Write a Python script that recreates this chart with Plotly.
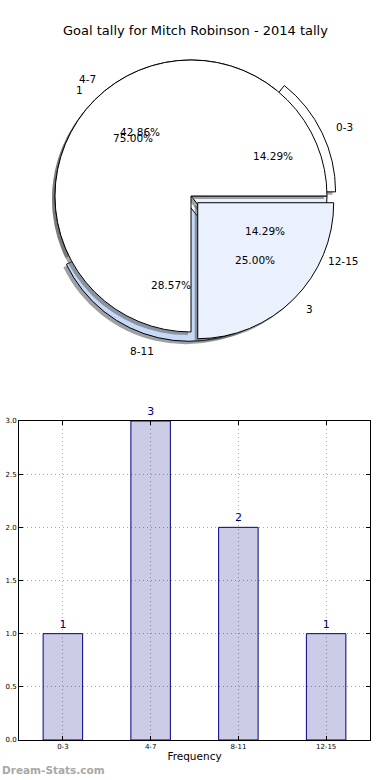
import math
import plotly.graph_objects as go

# ---------------- data ----------------
title_text = "Goal tally for Mitch Robinson - 2014 tally"
categories = ["0-3", "4-7", "8-11", "12-15"]
counts = [1, 3, 2, 1]
pie_a_pull = [0.07, 0.0, 0.07, 0.0]
pie_a_colors = ["#ffffff", "#ffffff", "#c6d9f7", "#eaf0fc"]

pie_b_labels = ["1", "3"]
pie_b_values = [3, 1]
pie_b_pull = [0.0, 0.07]
pie_b_colors = ["#ffffff", "#eaf0fc"]

y_ticks = [0.0, 0.5, 1.0, 1.5, 2.0, 2.5, 3.0]
x_title = "Frequency"
watermark = "Dream-Stats.com"

# ---------------- layout geometry ----------------
FIG_W, FIG_H = 390, 780
ML, MR, MT, MB = 19, 20, 0, 40
PW, PH = FIG_W - ML - MR, FIG_H - MT - MB
CX, CY, R = 191, 196, 136
MAXPULL = max(pie_a_pull + pie_b_pull)


def px_x(px):
    return (px - ML) / PW


def px_y(py):
    return (FIG_H - MB - py) / PH


def pie_domain(dx=0.0, dy=0.0):
    half = R * (1 + MAXPULL)
    return dict(x=[px_x(CX - half + dx), px_x(CX + half + dx)],
                y=[px_y(CY + half + dy), px_y(CY - half + dy)])


def pie_trace(values, labels, pull, colors, dom, line_w=1, name=""):
    # pad pull array so every pie computes the same radius
    p = list(pull) + [MAXPULL]
    # first slice starts at 3 o'clock and the slices run counterclockwise
    rot = 90 - values[0] / sum(values) * 360
    return go.Pie(values=values, labels=labels, pull=p, sort=False,
                  direction="counterclockwise", rotation=rot,
                  marker=dict(colors=colors, line=dict(color="black", width=line_w)),
                  textinfo="none", hoverinfo="skip", showlegend=False,
                  domain=dom, name=name)


fig = go.Figure()

shadow_a = ["rgba(77,77,77,0.5)", "rgba(77,77,77,0.5)", "rgba(59,65,74,0.5)", "rgba(70,72,76,0.5)"]
shadow_b = ["rgba(77,77,77,0.5)", "rgba(70,72,76,0.5)"]
fig.add_trace(pie_trace(counts, categories, pie_a_pull, shadow_a, pie_domain(-3, 3), 0, "sa"))
fig.add_trace(pie_trace(counts, categories, pie_a_pull, pie_a_colors, pie_domain(), 1, "a"))
fig.add_trace(pie_trace(pie_b_values, pie_b_labels, pie_b_pull, shadow_b, pie_domain(-3, 3), 0, "sb"))
fig.add_trace(pie_trace(pie_b_values, pie_b_labels, pie_b_pull, pie_b_colors, pie_domain(), 1, "b"))

# pie labels (matplotlib style: percent at 0.6 r, label at 1.1 r)
annotations = []


def add_pie_text(values, labels, pull):
    total = sum(values)
    start = 0.0
    for v, lab, p in zip(values, labels, pull):
        frac = v / total
        mid = math.radians((start + frac / 2) * 360)
        start += frac
        ox = CX + p * R * math.cos(mid)
        oy = CY - p * R * math.sin(mid)
        lx = ox + 1.1 * R * math.cos(mid)
        ly = oy - 1.1 * R * math.sin(mid)
        annotations.append(dict(x=px_x(lx), y=px_y(ly), xref="paper", yref="paper",
                                text=lab, showarrow=False,
                                xanchor="left" if math.cos(mid) > 0 else "right",
                                yanchor="middle",
                                font=dict(family="DejaVu Sans", size=10.5, color="black")))
        tx = ox + 0.6 * R * math.cos(mid)
        ty = oy - 0.6 * R * math.sin(mid)
        annotations.append(dict(x=px_x(tx), y=px_y(ty), xref="paper", yref="paper",
                                text=f"{frac * 100:.2f}%", showarrow=False,
                                xanchor="center", yanchor="middle",
                                font=dict(family="DejaVu Sans", size=10.5, color="black")))


add_pie_text(counts, categories, pie_a_pull)
add_pie_text(pie_b_values, pie_b_labels, pie_b_pull)

# title
annotations.append(dict(x=px_x(FIG_W / 2), y=px_y(30), xref="paper", yref="paper",
                        xanchor="center", yanchor="middle", text=title_text, showarrow=False,
                        font=dict(family="DejaVu Sans", size=13, color="black")))

# ---------------- bar chart ----------------
fig.add_trace(go.Bar(x=categories, y=counts, width=0.45,
                     marker=dict(color="rgba(0,0,128,0.2)", line=dict(color="#000080", width=1)),
                     text=[str(c) for c in counts], textposition="outside",
                     textfont=dict(family="DejaVu Sans", size=11, color="#000080"),
                     cliponaxis=False, hoverinfo="skip", showlegend=False))

annotations.append(dict(x=px_x(0), y=px_y(770), xref="paper", yref="paper",
                        xanchor="left", yanchor="middle",
                        text=f"<b>{watermark}</b>", showarrow=False,
                        font=dict(family="DejaVu Sans", size=10.5, color="#a8a8a8")))

BAR_TOP = 421
grid_common = dict(showgrid=True, gridcolor="#a8a8a8", griddash="1px,3px", gridwidth=1,
                   showline=True, linecolor="black", linewidth=1,
                   mirror="ticks", ticks="inside", ticklen=4, tickcolor="black",
                   tickfont=dict(family="DejaVu Sans", size=7, color="black"),
                   zeroline=False, automargin=False)
fig.update_layout(
    width=FIG_W, height=FIG_H,
    margin=dict(l=ML, r=MR, t=MT, b=MB),
    paper_bgcolor="white", plot_bgcolor="white",
    xaxis=dict(domain=[0, 1], range=[-0.5, 3.5],
               title=dict(text=x_title, standoff=2,
                          font=dict(family="DejaVu Sans", size=10.5, color="black")),
               **grid_common),
    yaxis=dict(domain=[0, px_y(BAR_TOP)], range=[0, 3], tickvals=y_ticks,
               ticktext=[f"{t:.1f}" for t in y_ticks], **grid_common),
    annotations=annotations,
)

fig.write_html("out.html", config={"displayModeBar": False},
               post_script="document.body.style.margin='0';")
